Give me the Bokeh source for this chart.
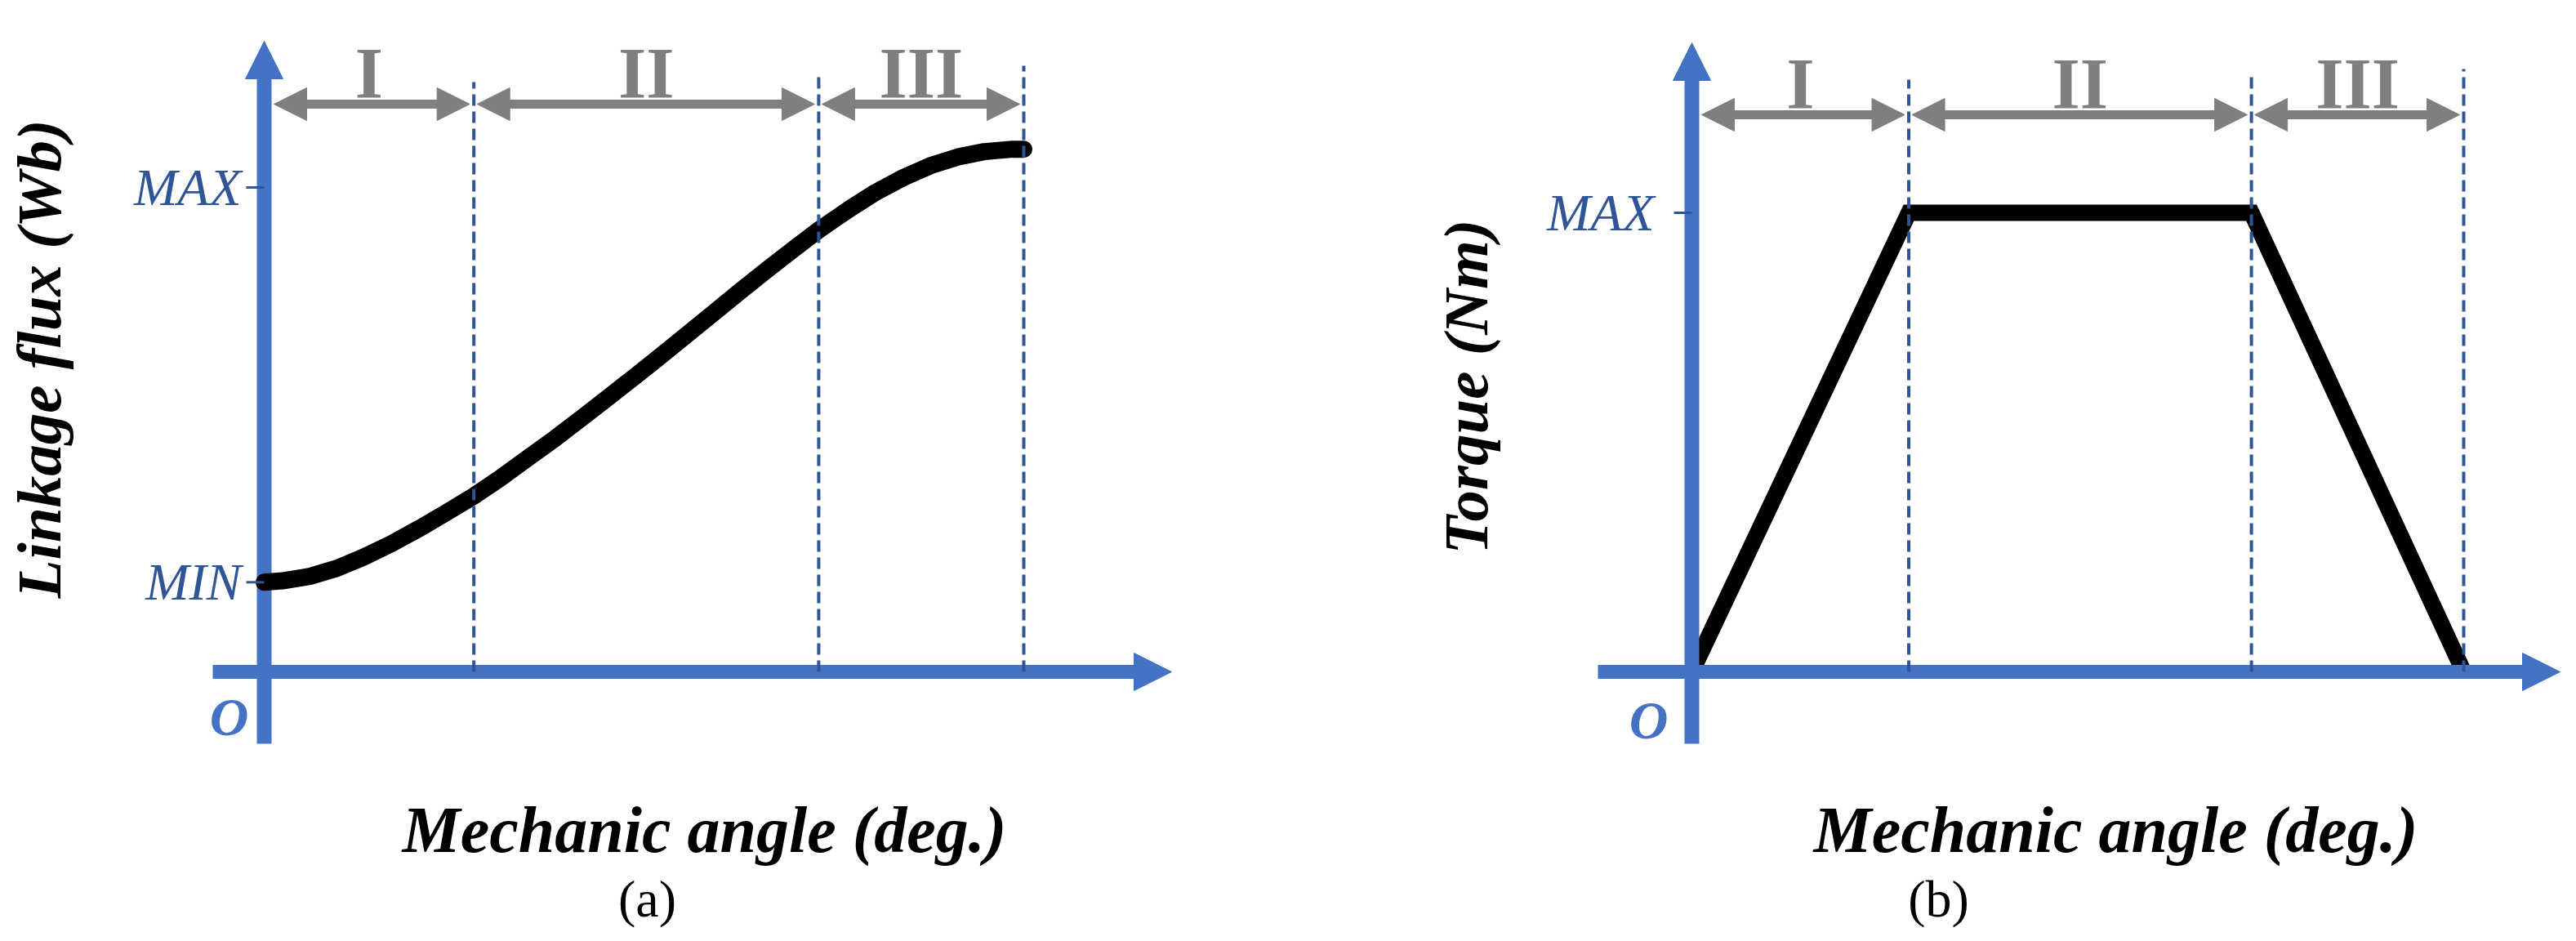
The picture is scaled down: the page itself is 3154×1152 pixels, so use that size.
import math
from bokeh.plotting import figure
from bokeh.models import Range1d, Arrow, NormalHead
from bokeh.layouts import row
from bokeh.embed import file_html
from bokeh.resources import INLINE
from bokeh.core.properties import value

# ------------------------------------------------------------------ data
regions = ["I", "II", "III"]

# (a) linkage flux vs mechanic angle (angle normalised 0..100, flux: MAX = 1)
angle_a = [0, 2.4, 6.0, 9.6, 13.1, 16.8, 20.3, 23.9, 27.6, 31.1, 34.6, 38.3,
           41.8, 45.4, 49.0, 51.8, 55.5, 59.0, 62.6, 66.2, 69.8, 73.0, 77.0,
           80.5, 84.1, 87.7, 91.3, 94.8, 98.5, 100]
flux_a = [0.185, 0.188, 0.197, 0.214, 0.237, 0.265, 0.295, 0.328, 0.363,
          0.400, 0.440, 0.482, 0.524, 0.568, 0.612, 0.647, 0.694, 0.739,
          0.785, 0.830, 0.874, 0.912, 0.955, 0.990, 1.020, 1.045, 1.063,
          1.074, 1.079, 1.079]
bounds_a = [0, 27.6, 73.0, 100]
ticks_a = [0.185, 1.0]
tick_labels_a = ["MIN", "MAX"]

# (b) torque vs mechanic angle (torque: MAX = 1)
angle_b = [0, 28.1, 72.5, 100]
torque_b = [0, 1, 1, 0]
bounds_b = [0, 28.1, 72.5, 100]
ticks_b = [1.0]
tick_labels_b = ["MAX"]

origin_label = "O"
x_title = "Mechanic angle (deg.)"
y_title_a = "Linkage flux (Wb)"
y_title_b = "Torque (Nm)"
captions = ["(a)", "(b)"]

# ------------------------------------------------------------------ style
BLUE = "#4472C4"
DARK_BLUE = "#2F5597"
GRAY = "#7F7F7F"
SERIF = value("Liberation Serif")
PAGE_H = 1136

cfg_a = dict(left=8, width=1572, X0=331, sx=9.30, Y0=830, sy=593,
             ybot=918, ytip=58, xleft=268, xtip=1442,
             dash_tops=[108, 98, 88], arrowY=135, romanY=97,
             ytitle=(55, 447), xtitle=(870, 1023), caption=(800, 1108),
             origin=(288, 885), tick_right=303)
cfg_b = dict(left=1580, width=1566, X0=2079, sx=9.45, Y0=830, sy=562,
             ybot=918, ytip=60, xleft=1964, xtip=3142,
             dash_tops=[105, 98, 92], arrowY=148, romanY=110,
             ytitle=(1802, 481), xtitle=(2598, 1023), caption=(2381, 1108),
             origin=(2026, 889), tick_right=2033)


def make_panel(c, xs, ys, bounds, ticks, tick_labels, y_title, caption, kind):
    U = lambda X: (X - c["X0"]) / c["sx"]
    V = lambda Y: (c["Y0"] - Y) / c["sy"]
    p = figure(width=c["width"], height=PAGE_H,
               x_range=Range1d(U(c["left"]), U(c["left"] + c["width"])),
               y_range=Range1d(V(8 + PAGE_H), V(8)),
               output_backend="svg", toolbar_location=None,
               x_axis_location=None, y_axis_location=None,
               min_border=0, outline_line_color=None,
               background_fill_color="white", border_fill_color="white")
    p.xgrid.visible = False
    p.ygrid.visible = False

    def draw_curve():
        if kind == "a":
            p.line(xs, ys, line_color="black", line_width=21,
                   line_cap="round", line_join="round")
        else:
            p.line(xs, ys, line_color="black", line_width=20,
                   line_cap="butt", line_join="miter")

    def draw_axes():
        head = 46
        p.segment(x0=[0], y0=[V(c["ybot"])], x1=[0], y1=[V(c["ytip"] + 0.6 * head)],
                  line_color=BLUE, line_width=18)
        p.add_layout(Arrow(x_start=0, y_start=V(c["ytip"] + 3 * head), x_end=0,
                           y_end=V(c["ytip"]), line_alpha=0,
                           end=NormalHead(size=head, fill_color=BLUE,
                                          line_color=BLUE, line_width=1)))
        p.segment(x0=[U(c["xleft"])], y0=[0], x1=[U(c["xtip"] - 0.6 * head)], y1=[0],
                  line_color=BLUE, line_width=17)
        p.add_layout(Arrow(x_start=U(c["xtip"] - 3 * head), y_start=0,
                           x_end=U(c["xtip"]), y_end=0, line_alpha=0,
                           end=NormalHead(size=head, fill_color=BLUE,
                                          line_color=BLUE, line_width=1)))

    if kind == "a":
        draw_axes()
        draw_curve()
    else:
        draw_curve()
        draw_axes()

    # region boundaries (dashed)
    p.segment(x0=bounds[1:], y0=[0] * (len(bounds) - 1), x1=bounds[1:],
              y1=[V(t) for t in c["dash_tops"]],
              line_color=DARK_BLUE, line_width=4, line_dash="14 7")

    # region arrows
    ay = V(c["arrowY"])
    gh = 40
    for i in range(len(regions)):
        xl = c["X0"] + bounds[i] * c["sx"] + (12 if i == 0 else 4)
        xr = c["X0"] + bounds[i + 1] * c["sx"] - 5
        p.segment(x0=[U(xl + 0.6 * gh)], y0=[ay], x1=[U(xr - 0.6 * gh)], y1=[ay],
                  line_color=GRAY, line_width=11)
        p.add_layout(Arrow(x_start=U(xl), y_start=ay, x_end=U(xr), y_end=ay,
                           line_alpha=0,
                           start=NormalHead(size=gh, fill_color=GRAY, line_color=GRAY, line_width=1),
                           end=NormalHead(size=gh, fill_color=GRAY, line_color=GRAY, line_width=1)))
    mids = [(bounds[i] + bounds[i + 1]) / 2 for i in range(len(regions))]
    p.text(x=mids, y=[V(c["romanY"])] * len(regions), text=regions,
           text_font=SERIF, text_font_style="bold", text_font_size="88px",
           text_color=GRAY, text_align="center", text_baseline="alphabetic")

    # y ticks + labels
    p.segment(x0=[U(c["X0"] - 22)] * len(ticks), y0=ticks, x1=[0] * len(ticks), y1=ticks,
              line_color=DARK_BLUE, line_width=3)
    p.text(x=[U(c["tick_right"])] * len(ticks), y=ticks, text=tick_labels,
           text_font=SERIF, text_font_style="italic", text_font_size="64px",
           text_color=DARK_BLUE, text_align="right", text_baseline="middle")

    # origin
    ox, oy = c["origin"]
    p.text(x=[U(ox)], y=[V(oy)], text=[origin_label], text_font=SERIF,
           text_font_style="bold italic", text_font_size="66px", text_color=BLUE,
           text_align="center", text_baseline="middle")

    # titles
    tx, ty = c["ytitle"]
    p.text(x=[U(tx)], y=[V(ty)], text=[y_title], angle=math.pi / 2,
           text_font=SERIF, text_font_style="bold italic", text_font_size="77px",
           text_color="black", text_align="center", text_baseline="middle")
    xx, xy = c["xtitle"]
    p.text(x=[U(xx)], y=[V(xy)], text=[x_title], text_font=SERIF,
           text_font_style="bold italic", text_font_size="80px",
           text_color="black", text_align="center", text_baseline="alphabetic")
    cx, cy = c["caption"]
    p.text(x=[U(cx)], y=[V(cy)], text=[caption], text_font=SERIF,
           text_font_size="64px", text_color="black",
           text_align="center", text_baseline="alphabetic")
    return p


pa = make_panel(cfg_a, angle_a, flux_a, bounds_a, ticks_a, tick_labels_a,
                y_title_a, captions[0], "a")
pb = make_panel(cfg_b, angle_b, torque_b, bounds_b, ticks_b, tick_labels_b,
                y_title_b, captions[1], "b")

layout = row(pa, pb, spacing=0)
open("out.html", "w").write(file_html(layout, INLINE))
